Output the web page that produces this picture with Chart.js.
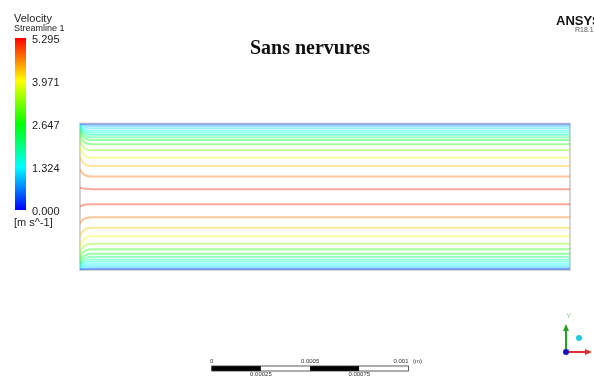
<!DOCTYPE html>
<html>
<head>
<meta charset="utf-8">
<title>Sans nervures</title>
<script src="https://cdn.jsdelivr.net/npm/chart.js@4.4.1/dist/chart.umd.min.js"></script>
<style>
    html, body { margin: 0; padding: 0; background: #fff; overflow: hidden; }
    #wrap { position: relative; width: 594px; height: 379px; overflow: hidden; font-family: "Liberation Sans", Arial, sans-serif; }
    #plot { position: absolute; left: 0; top: 0; }
    .lbl { position: absolute; white-space: nowrap; line-height: 1; color: #222; transform: translateY(-50%); }
    #title { position: absolute; left: 160px; width: 300px; top: 47px; text-align: center; transform: translateY(-50%);
             font: bold 20px "Liberation Serif", "Times New Roman", serif; color: #111; line-height: 1; }
    #logo { position: absolute; left: 556px; top: 20px; font: bold 13px "Liberation Sans", Arial, sans-serif; color: #111; transform: translateY(-50%); line-height: 1; }
    #release { position: absolute; left: 575px; top: 29px; font: 7px "Liberation Sans", Arial, sans-serif; color: #555; transform: translateY(-50%); line-height: 1; }
</style>
</head>
<body>
<div id="wrap">
    <canvas id="plot" width="594" height="379"></canvas>
    <div id="title">Sans nervures</div>
    <div id="logo">ANSYS</div>
    <div id="release">R18.1</div>
</div>
<script>
// x stations along the channel (mm): inlet, bend, developed, outlet
const stationX = [0, 0.012, 0.06, 2.49];

// streamline heights above the lower wall (mm), bottom wall -> top wall
const inletY = [0.001, 0.003, 0.006, 0.010, 0.015, 0.021, 0.028, 0.038, 0.058, 0.084, 0.114, 0.170, 0.236, 0.323,
                0.419, 0.512, 0.576, 0.627, 0.661, 0.687, 0.707, 0.717, 0.724, 0.730, 0.735, 0.739, 0.742, 0.744];
const bendY = [0.003, 0.007, 0.014, 0.022, 0.030, 0.039, 0.050, 0.063, 0.084, 0.112, 0.145, 0.195, 0.254, 0.329,
               0.415, 0.492, 0.550, 0.596, 0.632, 0.660, 0.682, 0.694, 0.704, 0.712, 0.720, 0.729, 0.737, 0.743];
const outletY = [0.004, 0.010, 0.020, 0.031, 0.042, 0.054, 0.068, 0.083, 0.105, 0.134, 0.171, 0.215, 0.268, 0.334,
                 0.411, 0.475, 0.529, 0.571, 0.609, 0.639, 0.661, 0.675, 0.687, 0.698, 0.708, 0.721, 0.732, 0.742];

// velocity carried by each streamline (m/s)
const lineSpeed = [0.3, 0.9, 1.15, 1.35, 1.55, 1.8, 2.1, 2.45, 2.75, 3.3, 3.85, 4.3, 4.7, 5.1,
                   5.1, 4.7, 4.3, 3.85, 3.3, 2.75, 2.45, 2.1, 1.8, 1.55, 1.35, 1.15, 0.9, 0.3];

// colour legend and scale bar
const legendTicks = [0.000, 1.324, 2.647, 3.971, 5.295];
const velocityMax = 5.295;
const scaleTicks = [0, 0.00025, 0.0005, 0.00075, 0.001]; // metres

const channelLength = 2.49;  // mm
const channelHeight = 0.745; // mm

// blue -> cyan -> green -> yellow -> red
function rainbow(v, alpha) {
    const t = Math.max(0, Math.min(1, v / velocityMax)) * 4;
    const stops = [[0, 0, 255], [0, 255, 255], [0, 255, 0], [255, 255, 0], [255, 0, 0]];
    const i = Math.min(3, Math.floor(t));
    const f = t - i;
    const c = stops[i].map((a, k) => Math.round(a + (stops[i + 1][k] - a) * f));
    return `rgba(${c[0]}, ${c[1]}, ${c[2]}, ${alpha})`;
}

const datasets = lineSpeed.map((speed, i) => ({
    data: [inletY[i], bendY[i], outletY[i], outletY[i]].map((y, k) => ({ x: stationX[k], y })),
    borderColor: rainbow(speed, 0.4),
    borderWidth: 2,
    pointRadius: 0,
    fill: false,
    cubicInterpolationMode: "monotone"
}));

// channel walls
const wallPlugin = {
    id: "walls",
    beforeDatasetsDraw(chart) {
        const { ctx, chartArea: a } = chart;
        ctx.save();
        ctx.strokeStyle = "#d4d4d4";
        ctx.lineWidth = 2;
        ctx.strokeRect(a.left, a.top, a.right - a.left, a.bottom - a.top);
        ctx.restore();
    }
};

// colour bar, length scale and axis triad
const annotationPlugin = {
    id: "annotations",
    afterDraw(chart) {
        const ctx = chart.ctx;
        const xs = chart.scales.x;
        ctx.save();

        // colour bar
        const barLeft = 15, barRight = 26, barTop = 38, barBottom = 210;
        const grad = ctx.createLinearGradient(0, barBottom, 0, barTop);
        for (let k = 0; k <= 4; k++) grad.addColorStop(k / 4, rainbow(velocityMax * k / 4, 1));
        ctx.fillStyle = grad;
        ctx.fillRect(barLeft, barTop, barRight - barLeft, barBottom - barTop);

        // length scale: 1 mm on the x scale
        const sLeft = 211.7;
        const mm = xs.getPixelForValue(1) - xs.getPixelForValue(0);
        const sTop = 366, sH = 5;
        for (let k = 0; k < scaleTicks.length - 1; k++) {
            const x0 = sLeft + scaleTicks[k] * 1000 * mm;
            const x1 = sLeft + scaleTicks[k + 1] * 1000 * mm;
            ctx.fillStyle = k % 2 === 0 ? "#000" : "#fff";
            ctx.fillRect(x0, sTop, x1 - x0, sH);
        }
        ctx.strokeStyle = "#333";
        ctx.lineWidth = 0.8;
        ctx.strokeRect(sLeft, sTop, mm, sH);

        // axis triad
        const ox = 566, oy = 352;
        ctx.lineWidth = 2;
        ctx.strokeStyle = "#22a022";
        ctx.beginPath(); ctx.moveTo(ox, oy); ctx.lineTo(ox, 330); ctx.stroke();
        ctx.fillStyle = "#22a022";
        ctx.beginPath(); ctx.moveTo(ox, 324); ctx.lineTo(ox - 3, 331); ctx.lineTo(ox + 3, 331); ctx.closePath(); ctx.fill();
        ctx.strokeStyle = "#e03030";
        ctx.beginPath(); ctx.moveTo(ox, oy); ctx.lineTo(586, oy); ctx.stroke();
        ctx.fillStyle = "#e03030";
        ctx.beginPath(); ctx.moveTo(592, oy); ctx.lineTo(585, oy - 3); ctx.lineTo(585, oy + 3); ctx.closePath(); ctx.fill();
        ctx.strokeStyle = "#9aa0ff";
        ctx.lineWidth = 1;
        ctx.beginPath(); ctx.moveTo(ox, oy); ctx.lineTo(ox + 4, oy - 3); ctx.stroke();
        ctx.fillStyle = "#1515c0";
        ctx.beginPath(); ctx.arc(ox, oy, 3, 0, Math.PI * 2); ctx.fill();
        ctx.fillStyle = "#25c8d8";
        ctx.beginPath(); ctx.arc(579, 338, 3, 0, Math.PI * 2); ctx.fill();

        ctx.restore();
    }
};

new Chart(document.getElementById("plot"), {
    type: "line",
    data: { datasets },
    options: {
        responsive: false,
        animation: false,
        events: [],
        layout: { padding: { left: 80, right: 24, top: 123.5, bottom: 109 } },
        scales: {
            x: { type: "linear", min: 0, max: channelLength, display: false },
            y: { type: "linear", min: 0, max: channelHeight, display: false }
        },
        plugins: {
            legend: { display: false },
            tooltip: { enabled: false },
            title: { display: false }
        }
    },
    plugins: [wallPlugin, annotationPlugin]
});

// text labels
const wrap = document.getElementById("wrap");
function addLabel(text, left, top, size, extra) {
    const el = document.createElement("div");
    el.className = "lbl";
    el.textContent = text;
    el.style.left = left + "px";
    el.style.top = top + "px";
    el.style.fontSize = size + "px";
    if (extra) Object.assign(el.style, extra);
    wrap.appendChild(el);
    return el;
}

addLabel("Velocity", 14, 18, 11);
addLabel("Streamline 1", 14, 28, 9);
legendTicks.forEach(v => {
    const y = 210 - (v / velocityMax) * (210 - 38) + 1;
    addLabel(v.toFixed(3), 32, y, 11);
});
addLabel("[m s^-1]", 14, 222, 11);

// length scale labels
const mmPx = 490 / channelLength;
scaleTicks.forEach((v, k) => {
    const x = 211.7 + v * 1000 * mmPx;
    const above = k % 2 === 0;
    const el = addLabel(String(v), x, above ? 361 : 374, 6, { color: "#333" });
    if (k === scaleTicks.length - 1) el.style.transform = "translate(-100%, -50%)";
    else el.style.transform = "translate(-50%, -50%)";
});
addLabel("(m)", 413, 361, 6, { color: "#333" });
addLabel("Y", 566, 316, 8, { color: "#9c9" });
</script>
</body>
</html>
